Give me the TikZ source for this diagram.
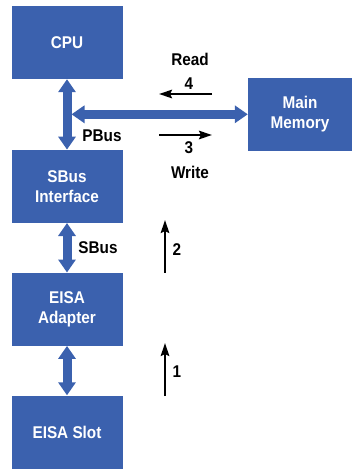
\documentclass[tikz,border=0pt]{standalone}
\usepackage{fontspec}
\setmainfont{Liberation Sans}[FakeStretch=0.9]
\usetikzlibrary{arrows.meta}
\definecolor{busblue}{HTML}{3B61AE}
\tikzset{
  unit/.style={draw=none,fill=busblue,text=white,minimum width=111pt,minimum height=73pt,align=center,inner sep=0pt},
  busarr/.style={{Triangle[length=13pt,width=17pt]}-{Triangle[length=13pt,width=17pt]},line width=9pt,draw=busblue},
  steparr/.style={-{Stealth[length=13pt,width=8.5pt,inset=2pt]},line width=2pt,draw=black},
  lbl/.style={inner sep=0pt,align=center}
}
\begin{document}
\begin{tikzpicture}[x=1pt,y=-1pt,font=\fontsize{17}{20}\selectfont\bfseries]
  \useasboundingbox (0,0) rectangle (352,469);
  % units
  \node[unit] (cpu) at (67,42.5) {CPU};
  \node[unit] (sbi) at (67,186.3) {SBus\\Interface};
  \node[unit] (eisa) at (67,309.2) {EISA\\Adapter};
  \node[unit] (slot) at (67,432) {EISA Slot};
  \node[unit,minimum width=104pt] (mem) at (300,114.3) {Main\\Memory};
  % buses
  \coordinate (pjoin) at (71.5,114.3);
  \draw[busarr] (cpu.south) -- (sbi.north);
  \draw[busarr] (pjoin) -- (mem.west);
  \draw[busarr] (sbi.south) -- (eisa.north);
  \draw[busarr] (eisa.south) -- (slot.north);
  \node[lbl] (pbus) at (102,135.5) {PBus};
  \node[lbl] (sbus) at (98,248) {SBus};
  % transfer steps
  \coordinate (s1a) at (165,396);
  \coordinate (s1b) at (165,343);
  \coordinate (s2a) at (165,272.5);
  \coordinate (s2b) at (165,220);
  \coordinate (s3a) at (159,135);
  \coordinate (s3b) at (212,135);
  \coordinate (s4a) at (212,94);
  \coordinate (s4b) at (159,94);
  \draw[steparr] (s1a) -- (s1b);
  \draw[steparr] (s2a) -- (s2b);
  \draw[steparr] (s3a) -- (s3b);
  \draw[steparr] (s4a) -- (s4b);
  \node[lbl] (n1) at (177,371.5) {1};
  \node[lbl] (n2) at (177,250) {2};
  \node[lbl] (n3) at (189,148) {3};
  \node[lbl] (n4) at (189,84) {4};
  \node[lbl] (rd) at (190,59) {Read};
  \node[lbl] (wr) at (190,172) {Write};
\end{tikzpicture}
\end{document}
